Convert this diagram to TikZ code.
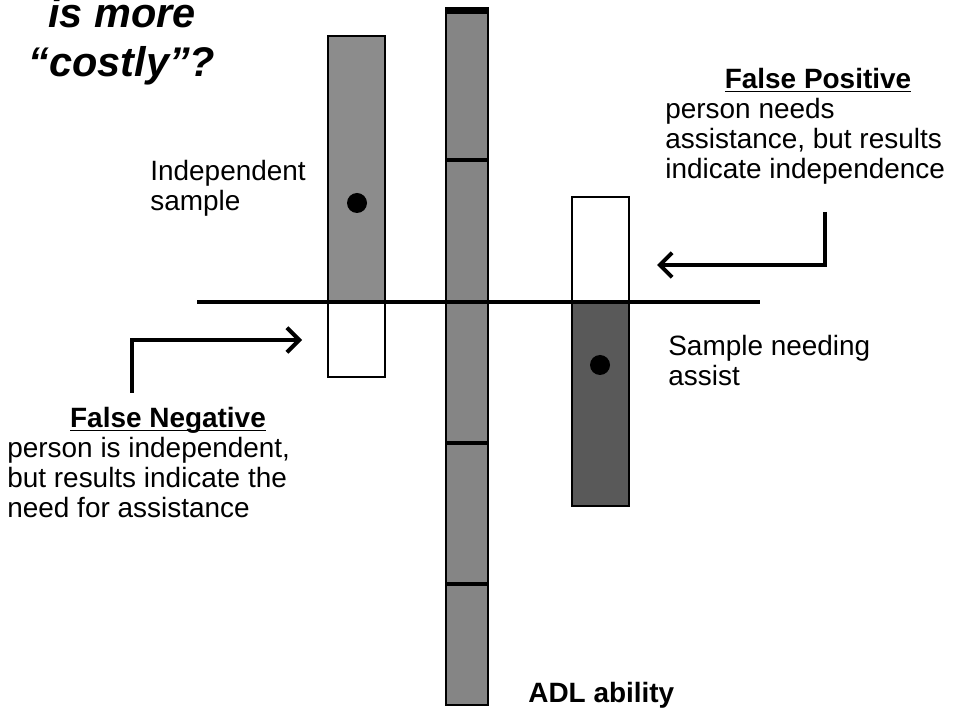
\documentclass[tikz,border=0pt]{standalone}
\usepackage{fontspec}
\setmainfont{Liberation Sans}
\usetikzlibrary{positioning,arrows.meta}

\newcommand{\hdrline}[1]{\underline{\smash{#1}}}

\tikzset{
    txt/.style={inner sep=0pt, font=\fontsize{15.9}{17}\selectfont, align=left},
    hdr/.style={inner sep=0pt, font=\fontsize{15.9}{17}\selectfont\bfseries},
    arr/.style={line width=2.3pt, -{Straight Barb[length=7pt,width=14pt]}},
    bar/.style={draw=black, line width=1pt},
}

\begin{document}
\begin{tikzpicture}
    \useasboundingbox (0,0) rectangle (19.28,-14.3);
    % title
    \node[inner sep=0pt, anchor=north, align=center, font=\fontsize{23.6}{27.9}\selectfont\bfseries\itshape] (title) at (2.44,0.06) {is more\\“costly”?};
    % ADL scale
    \fill[black!48] (8.92,-0.16) rectangle (9.76,-14.1);
    \draw[line width=1.2pt] (8.92,-0.16) rectangle (9.76,-14.1);
    \foreach \y in {-3.2,-8.86,-11.68}
        \draw[line width=2.8pt] (8.92,\y) -- (9.76,\y);
    \draw[line width=3.4pt] (8.92,-0.22) -- (9.76,-0.22);
    % independent sample
    \fill[black!45] (6.56,-0.72) rectangle (7.7,-6.04);
    \draw[bar] (6.56,-0.72) rectangle (7.7,-7.54);
    \fill (7.14,-4.06) circle (0.2);
    % sample needing assist
    \fill[black!65] (11.44,-6.04) rectangle (12.58,-10.12);
    \draw[bar] (11.44,-3.94) rectangle (12.58,-10.12);
    \fill (12.0,-7.3) circle (0.2);
    % cut-off
    \draw[line width=2pt] (3.94,-6.04) -- (15.2,-6.04);
    % labels
    \node[txt, anchor=north west] (indep) at (3.0,-3.2) {Independent\\sample};
    \node[txt, anchor=north west] (assist) at (13.36,-6.7) {Sample needing\\assist};
    \node[hdr, anchor=north west] (adl) at (10.56,-13.64) {ADL ability};
    \node[hdr, anchor=base] (fnhead) at (3.36,-8.56) {\hdrline{False Negative}};
    \node[txt, anchor=north west] (fnbody) at (0.14,-8.74) {person is independent,\\but results indicate the\\need for assistance};
    \node[hdr, anchor=base] (fphead) at (16.36,-1.78) {\hdrline{False Positive}};
    \node[txt, anchor=north west] (fpbody) at (13.3,-1.96) {person needs\\assistance, but results\\indicate independence};
    % arrows
    \coordinate (fnfoot) at (2.64,-7.86);
    \coordinate (fnbend) at (2.64,-6.8);
    \coordinate (fntip) at (6.04,-6.8);
    \draw[arr] (fnfoot) -- (fnbend) -- (fntip);
    \coordinate (fpfoot) at (16.5,-4.24);
    \coordinate (fpbend) at (16.5,-5.3);
    \coordinate (fptip) at (13.14,-5.3);
    \draw[arr] (fpfoot) -- (fpbend) -- (fptip);
\end{tikzpicture}
\end{document}
